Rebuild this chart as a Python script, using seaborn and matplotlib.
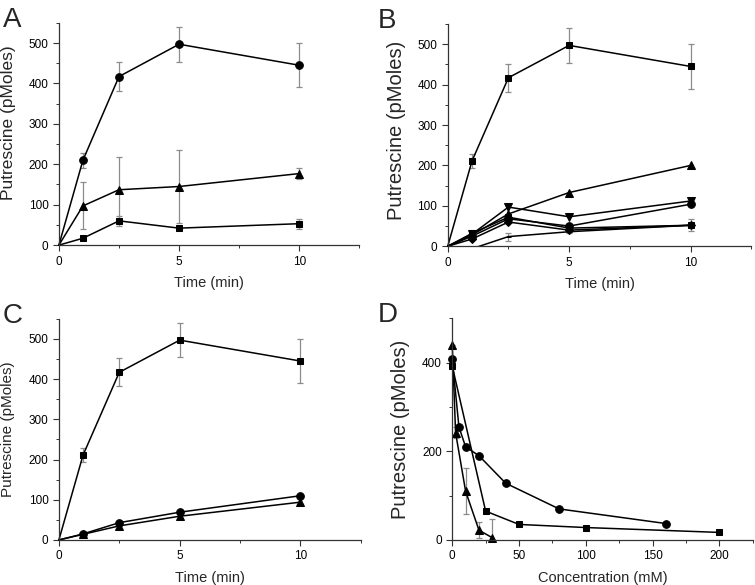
import numpy as np
import pandas as pd
import matplotlib
matplotlib.use("Agg")
import matplotlib.pyplot as plt
from matplotlib.ticker import MultipleLocator
import seaborn as sns

sns.set_style("ticks")
plt.rcParams["font.family"] = ["Liberation Sans", "DejaVu Sans"]

time = [0, 1, 2.5, 5, 10]

# panel A
a_circle = [0, 210, 417, 497, 445]
a_circle_err = [0, 18, 35, 43, 55]
a_tri = [0, 97, 137, 145, 177]
a_tri_err = [0, 58, 80, 90, 14]
a_square = [0, 17, 60, 42, 53]
a_square_err = [0, 3, 12, 4, 12]

# panel B
b_square = [0, 211, 417, 497, 445]
b_square_err = [0, 17, 35, 43, 55]
b_uptri = [0, 28, 80, 133, 200]
b_downtri = [0, 30, 97, 73, 112]
b_circle = [0, 25, 68, 50, 104]
b_sq2 = [0, 32, 72, 45, 52]
b_diamond = [0, 18, 60, 40, 52]
b_low = [-6, 24, 36, 52]
b_low_time = [1, 2.5, 5, 10]
b_low_err = [0, 10, 4, 15]

# panel C
c_square = [0, 211, 417, 497, 445]
c_square_err = [0, 17, 35, 43, 55]
c_circle = [0, 15, 43, 69, 110]
c_tri = [0, 14, 35, 59, 94]

# panel D
d_circle_x = [0, 5, 10, 20, 40, 80, 160]
d_circle = [408, 255, 210, 190, 128, 70, 37]
d_square_x = [0, 25, 50, 100, 200]
d_square = [392, 65, 35, 28, 17]
d_tri_x = [0, 2.5, 10, 20, 30]
d_tri = [440, 242, 110, 22, 5]
d_tri_err = [0, 12, 52, 18, 43]

fig = plt.figure(figsize=(7.55, 5.85), dpi=100)
axA = fig.add_axes([0.078, 0.581, 0.398, 0.380])
axB = fig.add_axes([0.593, 0.579, 0.402, 0.380])
axC = fig.add_axes([0.078, 0.077, 0.400, 0.378])
axD = fig.add_axes([0.599, 0.077, 0.398, 0.379])


def series(ax, x, y, marker, err=None, ms=5.5, skip0=True, clip=False):
    if err is not None:
        ax.errorbar(x, y, yerr=err, fmt="none", ecolor="#8c8c8c",
                    elinewidth=0.9, capsize=2.5, capthick=0.9, zorder=1)
    df = pd.DataFrame({"x": x, "y": y})
    n_before = len(ax.lines)
    every = list(range(1, len(x))) if skip0 else None
    sns.lineplot(data=df, x="x", y="y", ax=ax, color="black", lw=1.1,
                 marker=marker, markersize=ms, markeredgecolor="black",
                 markerfacecolor="black", markevery=every, zorder=2)
    for ln in ax.lines[n_before:]:
        ln.set_clip_on(clip)


def style(ax, xlim, ylim, xmaj, xmin, ymaj, ymin, xlabel, ysize, ylab_x, ylab_y=0.5):
    ax.set_xlim(*xlim)
    ax.set_ylim(*ylim)
    ax.xaxis.set_major_locator(MultipleLocator(xmaj))
    ax.xaxis.set_minor_locator(MultipleLocator(xmin))
    ax.yaxis.set_major_locator(MultipleLocator(ymaj))
    ax.yaxis.set_minor_locator(MultipleLocator(ymin))
    ax.set_xlabel(xlabel, fontsize=10.5, labelpad=6)
    ax.set_ylabel("Putrescine (pMoles)", fontsize=ysize)
    ax.yaxis.set_label_coords(ylab_x, ylab_y)
    ax.yaxis.label.set_verticalalignment("center")
    sns.despine(ax=ax)
    for s in ("left", "bottom"):
        ax.spines[s].set_linewidth(0.9)
        ax.spines[s].set_color("#333333")
    ax.tick_params(which="major", length=4, width=0.8, labelsize=8.5,
                   colors="#333333", labelcolor="black")
    ax.tick_params(which="minor", length=2.5, width=0.7, colors="#333333")


series(axA, time, a_circle, "o", a_circle_err)
series(axA, time, a_tri, "^", a_tri_err)
series(axA, time, a_square, "s", a_square_err, ms=5)
style(axA, (0, 12.5), (0, 550), 5, 2.5, 100, 50, "Time (min)", 12.5, -0.167, 0.55)

series(axB, time, b_square, "s", b_square_err, ms=5)
series(axB, time, b_uptri, "^")
series(axB, time, b_downtri, "v")
series(axB, time, b_circle, "o")
series(axB, time, b_sq2, "s", ms=4.5)
series(axB, time, b_diamond, "D", ms=4.5)
series(axB, b_low_time, b_low, "_", b_low_err, ms=4, clip=True)
style(axB, (0, 12.5), (0, 550), 5, 2.5, 100, 50, "Time (min)", 14.5, -0.168, 0.52)

series(axC, time, c_square, "s", c_square_err, ms=5)
series(axC, time, c_circle, "o")
series(axC, time, c_tri, "^")
style(axC, (0, 12.5), (0, 550), 5, 2.5, 100, 50, "Time (min)", 11, -0.17)

series(axD, d_circle_x, d_circle, "o", skip0=False)
series(axD, d_square_x, d_square, "s", ms=5, skip0=False)
series(axD, d_tri_x, d_tri, "^", d_tri_err, skip0=False)
style(axD, (0, 225), (0, 500), 50, 25, 200, 100, "Concentration (mM)", 14.5, -0.173)

for ax, lab, xo in ((axA, "A", 0.004), (axB, "B", 0.500), (axC, "C", 0.004), (axD, "D", 0.500)):
    pos = ax.get_position()
    fig.text(xo, pos.y1 + 0.005, lab, fontsize=20, ha="left", va="center")

fig.savefig("out.png", dpi=100)
